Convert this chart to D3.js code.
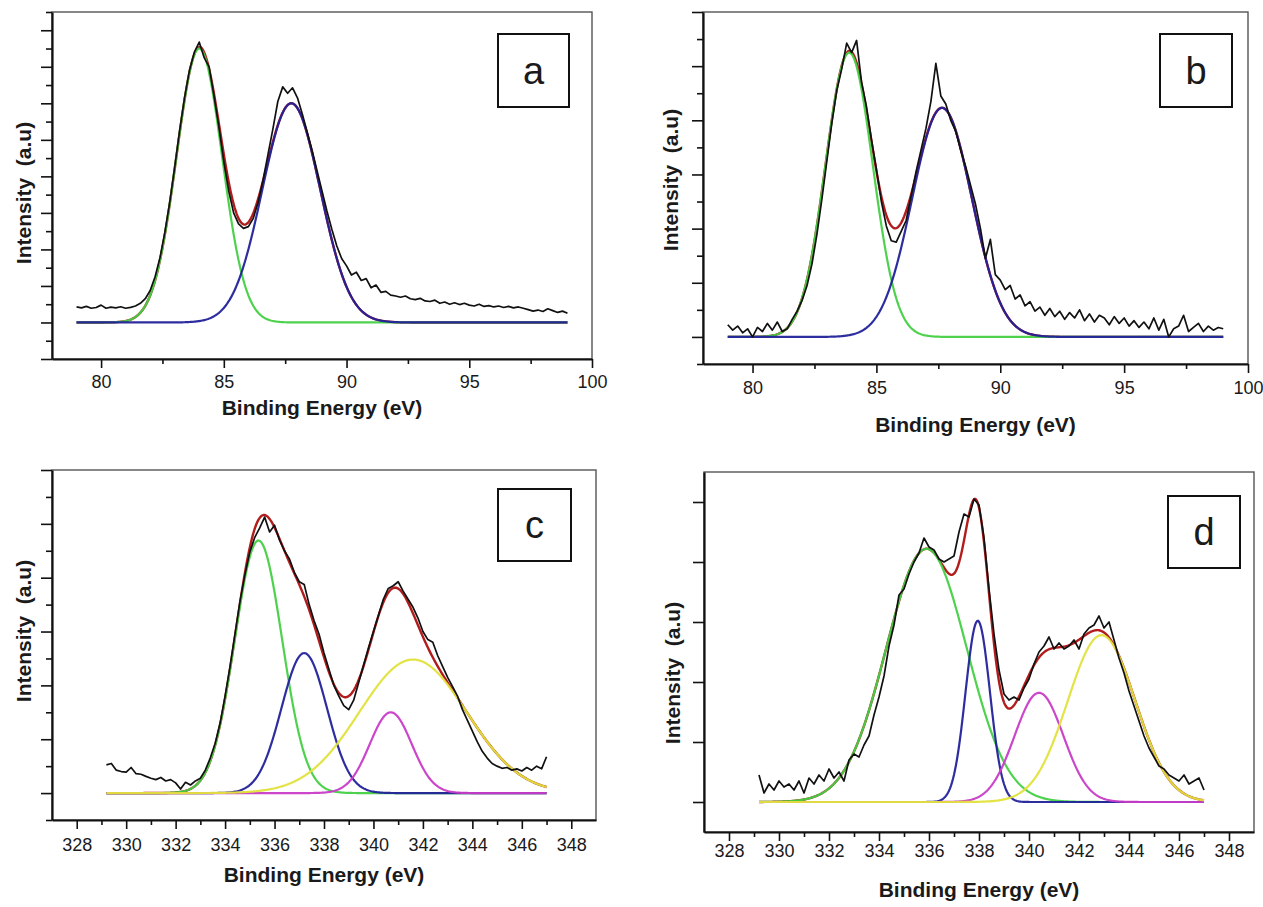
<!DOCTYPE html>
<meta charset="utf-8">
<script src="https://d3js.org/d3.v7.min.js"></script>
<style>
  body { margin: 0; background: #fff; }
  text { font-family: "Liberation Sans", Arial, Helvetica, sans-serif; fill: #1a1a1a; }
  .tick line { stroke: #111; stroke-width: 1.6px; }
</style>
<body>
<div id="chart"></div>
<script>
// ---------- data ----------
// measured spectra, one value every 0.2 eV starting at the given energy
var stepEv = 0.2;
var aStart = 79.0;
var aSignal = [0.85,0.80,0.88,0.78,0.82,0.95,0.78,0.84,0.80,0.86,
  0.78,0.83,0.90,1.05,1.30,1.75,2.50,3.55,4.95,6.60,
  8.50,10.50,12.30,13.80,14.80,15.35,14.50,14.00,12.40,10.70,
  8.80,7.20,6.00,5.40,5.15,5.25,5.70,6.60,7.80,9.20,
  10.60,12.10,12.90,12.55,12.85,12.30,11.40,10.40,9.40,8.30,
  7.20,6.10,5.10,4.20,3.50,3.10,2.60,2.75,2.30,2.40,
  1.90,2.05,1.65,1.70,1.50,1.45,1.38,1.45,1.30,1.25,
  1.32,1.18,1.15,1.22,1.05,1.12,1.00,1.08,0.98,1.05,
  0.95,0.90,1.00,0.88,0.92,0.85,0.90,0.82,0.88,0.80,
  0.85,0.78,0.70,0.62,0.68,0.60,0.75,0.65,0.55,0.62,
  0.50];

var bStart = 79.0;
var bSignal = [0.45,0.25,0.40,0.15,0.30,0.00,0.35,0.20,0.50,0.25,
  0.55,0.20,0.30,0.65,0.95,1.35,1.90,2.70,3.80,5.10,
  6.50,7.90,9.10,9.90,10.85,10.50,10.95,9.40,8.50,7.30,
  6.20,5.00,4.10,3.55,3.50,3.90,4.30,5.20,6.10,6.90,
  7.70,8.70,10.10,8.90,8.60,8.00,7.60,6.90,6.30,5.60,
  4.90,4.00,2.90,3.60,2.30,2.10,1.75,1.90,1.40,1.55,
  1.15,1.30,0.95,1.10,0.80,1.05,0.75,0.95,0.65,0.90,
  0.70,1.00,0.60,0.85,0.55,0.80,0.70,0.45,0.75,0.50,
  0.70,0.40,0.60,0.35,0.55,0.30,0.70,0.25,0.65,0.00,
  0.30,0.40,0.80,0.20,0.35,0.50,0.20,0.40,0.25,0.35,
  0.30];

var cStart = 329.2;
var cSignal = [1.05,1.10,0.85,0.80,0.78,0.95,0.72,0.70,0.62,0.55,
  0.50,0.58,0.45,0.50,0.38,0.15,0.40,0.30,0.45,0.55,
  0.85,1.30,1.85,2.60,3.60,4.70,5.90,7.10,8.10,8.95,
  9.50,9.85,10.25,9.70,9.95,9.40,9.00,8.70,8.20,7.85,
  7.75,7.00,6.40,5.90,5.20,4.60,4.00,3.60,3.25,3.10,
  3.45,4.10,4.75,5.40,6.00,6.60,7.20,7.60,7.70,7.85,
  7.50,7.20,6.90,6.50,6.00,5.70,5.60,5.10,4.70,4.30,
  3.95,3.60,3.10,2.70,2.30,1.90,1.55,1.30,1.10,1.00,
  0.92,0.95,0.85,0.90,0.82,0.95,0.85,1.00,0.90,1.35];

var dStart = 329.2;
var dSignal = [0.45,0.15,0.30,0.20,0.35,0.25,0.30,0.20,0.35,0.15,
  0.40,0.30,0.45,0.35,0.55,0.40,0.50,0.35,0.70,0.80,
  0.75,0.95,1.10,1.45,1.75,2.10,2.60,2.95,3.45,3.55,
  3.80,4.00,4.15,4.40,4.25,4.20,4.05,4.00,4.05,4.10,
  4.50,4.80,4.75,5.05,4.95,4.40,3.55,2.80,2.20,1.80,
  1.70,1.75,1.70,1.90,2.05,2.30,2.50,2.60,2.75,2.55,
  2.65,2.55,2.60,2.70,2.55,2.80,2.90,2.95,3.10,2.90,
  3.00,2.70,2.40,2.15,1.85,1.60,1.35,1.10,0.90,0.75,
  0.60,0.55,0.45,0.40,0.35,0.45,0.30,0.35,0.40,0.20];

// fitted components: centre (eV), height, FWHM (eV)
var aCenters = [84.0, 87.75], aHeights = [15.0, 12.0], aFwhm = [2.19, 2.78];
var bCenters = [83.9, 87.65], bHeights = [10.5, 8.46], bFwhm = [2.24, 2.83];
var cCenters = [335.35, 337.2, 340.7, 341.6], cHeights = [9.38, 5.2, 3.0, 4.96], cFwhm = [2.26, 2.17, 2.0, 5.11];
var dCenters = [335.9, 337.95, 340.4, 342.9], dHeights = [4.22, 3.02, 1.82, 2.78], dFwhm = [3.8, 1.15, 2.3, 3.18];

// axis ticks
var abMajor = [80, 85, 90, 95, 100];
var abMinor = [82.5, 87.5, 92.5, 97.5];
var cdMajor = [328, 330, 332, 334, 336, 338, 340, 342, 344, 346, 348];
var cdMinor = [329, 331, 333, 335, 337, 339, 341, 343, 345, 347];
var letters = ["a", "b", "c", "d"];

// ---------- drawing ----------
var W = 1263, H = 907;
var svg = d3.select("#chart").append("svg")
  .attr("width", W).attr("height", H);

var green = "#45d045", blue = "#22229a", magenta = "#c83cc8", yellow = "#e2e23c", red = "#b31c1c";

function gauss(e, c, h, f) {
  return h * Math.exp(-4 * Math.LN2 * (e - c) * (e - c) / (f * f));
}

function drawPanel(p) {
  var x = d3.scaleLinear().domain(p.xDomain).range([p.left, p.right]);
  var y = d3.scaleLinear().domain(p.yDomain).range([p.bottom, p.top]);
  var g = svg.append("g");

  // frame (top/right thinner grey)
  g.append("rect")
    .attr("x", p.left).attr("y", p.top)
    .attr("width", p.right - p.left).attr("height", p.bottom - p.top)
    .attr("fill", "none").attr("stroke", "#555").attr("stroke-width", 1.4);

  // y axis ticks
  var yMaj = [], yMin = [];
  for (var v = Math.ceil(p.yDomain[0]); v <= p.yDomain[1]; v++) {
    if (p.yMinorOdd && Math.abs(v % 2) === 1) yMin.push(v); else yMaj.push(v);
  }
  g.append("g").attr("transform", "translate(" + p.left + ",0)")
    .call(d3.axisLeft(y).tickValues(yMaj).tickSize(11).tickSizeOuter(0).tickFormat(""))
    .call(function(s) { s.select(".domain").attr("stroke", "#111").attr("stroke-width", 2.2); });
  if (yMin.length) {
    g.append("g").attr("transform", "translate(" + p.left + ",0)")
      .call(d3.axisLeft(y).tickValues(yMin).tickSize(6).tickFormat(""))
      .call(function(s) { s.select(".domain").remove(); });
  }

  // x axis
  var xa = g.append("g").attr("transform", "translate(0," + p.bottom + ")")
    .call(d3.axisBottom(x).tickValues(p.major).tickSize(9).tickSizeOuter(0).tickPadding(p.pad))
    .call(function(s) { s.select(".domain").attr("stroke", "#111").attr("stroke-width", 2.2); });
  xa.selectAll("text").style("font-size", "18px").style("fill", "#1a1a1a")
    .style("font-family", "'Liberation Sans', Arial, sans-serif");
  g.append("g").attr("transform", "translate(0," + p.bottom + ")")
    .call(d3.axisBottom(x).tickValues(p.minor).tickSize(5).tickFormat(""))
    .call(function(s) { s.select(".domain").remove(); });

  // axis titles
  g.append("text")
    .attr("x", (p.left + p.right) / 2).attr("y", p.titleY)
    .attr("text-anchor", "middle")
    .style("font-size", "21px").style("font-weight", "bold")
    .text("Binding Energy (eV)");
  g.append("text")
    .attr("transform", "translate(" + p.yTitleX + "," + p.yTitleY + ") rotate(-90)")
    .attr("text-anchor", "middle")
    .style("font-size", "21px").style("font-weight", "bold")
    .style("white-space", "pre")
    .text("Intensity  (a.u)");

  // letter box
  g.append("rect")
    .attr("x", p.box[0]).attr("y", p.box[1])
    .attr("width", p.box[2]).attr("height", p.box[3])
    .attr("fill", "none").attr("stroke", "#111").attr("stroke-width", 2);
  g.append("text")
    .attr("x", p.box[0] + p.box[2] / 2).attr("y", p.box[1] + p.box[3] / 2 + 13)
    .attr("text-anchor", "middle")
    .style("font-size", "38px")
    .text(p.letter);

  // curves
  var e0 = p.start, e1 = p.start + (p.signal.length - 1) * stepEv;
  var grid = d3.range(e0, e1 + 0.001, 0.04);
  var line = d3.line().x(function(d) { return x(d[0]); }).y(function(d) { return y(d[1]); });

  var env = grid.map(function(e) {
    var s = 0;
    for (var i = 0; i < p.centers.length; i++) s += gauss(e, p.centers[i], p.heights[i], p.fwhm[i]);
    return [e, s];
  });
  g.append("path").datum(env).attr("d", line)
    .attr("fill", "none").attr("stroke", red).attr("stroke-width", 2.4);

  // components: green first, the later ones end up on top along the baseline
  p.centers.forEach(function(c, k) {
    var comp = grid.map(function(e) { return [e, gauss(e, c, p.heights[k], p.fwhm[k])]; });
    g.append("path").datum(comp).attr("d", line)
      .attr("fill", "none").attr("stroke", p.colors[k]).attr("stroke-width", 2.2)
      .attr("stroke-opacity", 0.95);
  });

  var meas = p.signal.map(function(v, i) { return [p.start + i * stepEv, v]; });
  g.append("path").datum(meas).attr("d", line)
    .attr("fill", "none").attr("stroke", "#111").attr("stroke-width", 1.7)
    .attr("stroke-linejoin", "round");
}

drawPanel({ left: 52, right: 592, top: 12, bottom: 359, xDomain: [78, 100], yDomain: [-2, 17],
  yMinorOdd: true, major: abMajor, minor: abMinor, pad: 7, titleY: 415,
  yTitleX: 31, yTitleY: 193, box: [498, 34, 71, 73], letter: letters[0],
  start: aStart, signal: aSignal, centers: aCenters, heights: aHeights, fwhm: aFwhm,
  colors: [green, blue] });

drawPanel({ left: 703, right: 1248, top: 12, bottom: 364, xDomain: [78, 100], yDomain: [-1, 12],
  yMinorOdd: true, major: abMajor, minor: abMinor, pad: 8, titleY: 432,
  yTitleX: 678, yTitleY: 180, box: [1160, 34, 72, 73], letter: letters[1],
  start: bStart, signal: bSignal, centers: bCenters, heights: bHeights, fwhm: bFwhm,
  colors: [green, blue] });

drawPanel({ left: 52, right: 596, top: 470, bottom: 820, xDomain: [327, 349], yDomain: [-1, 12],
  yMinorOdd: true, major: cdMajor, minor: cdMinor, pad: 9, titleY: 882,
  yTitleX: 31, yTitleY: 631, box: [498, 489, 73, 72], letter: letters[2],
  start: cStart, signal: cSignal, centers: cCenters, heights: cHeights, fwhm: cFwhm,
  colors: [green, blue, magenta, yellow] });

drawPanel({ left: 704, right: 1254, top: 472, bottom: 832, xDomain: [327, 349], yDomain: [-0.5, 5.5],
  yMinorOdd: false, major: cdMajor, minor: cdMinor, pad: 3, titleY: 897,
  yTitleX: 680, yTitleY: 673, box: [1168, 496, 72, 72], letter: letters[3],
  start: dStart, signal: dSignal, centers: dCenters, heights: dHeights, fwhm: dFwhm,
  colors: [green, blue, magenta, yellow] });
</script>
</body>
